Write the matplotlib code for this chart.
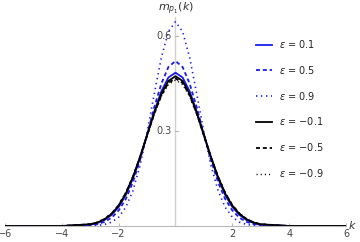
import matplotlib
matplotlib.use("Agg")
import matplotlib.pyplot as plt

k = [-6, -4, -3, -2.75, -2.5, -2.25, -2, -1.75, -1.5, -1.25, -1, -0.75, -0.5, -0.25,
     0, 0.25, 0.5, 0.75, 1, 1.25, 1.5, 1.75, 2, 2.25, 2.5, 2.75, 3, 4, 6]

m_p01 = [0, 0, 0.0045, 0.0094, 0.019, 0.035, 0.060, 0.098, 0.150, 0.215, 0.288, 0.361, 0.425, 0.469,
         0.484, 0.469, 0.425, 0.361, 0.288, 0.215, 0.150, 0.098, 0.060, 0.035, 0.019, 0.0094, 0.0045, 0, 0]
m_p05 = [0, 0, 0.0026, 0.006, 0.013, 0.026, 0.049, 0.085, 0.138, 0.207, 0.289, 0.374, 0.449, 0.502,
         0.521, 0.502, 0.449, 0.374, 0.289, 0.207, 0.138, 0.085, 0.049, 0.026, 0.013, 0.006, 0.0026, 0, 0]
m_p09 = [0, 0, 0.0006, 0.0018, 0.0049, 0.012, 0.028, 0.059, 0.111, 0.190, 0.295, 0.416, 0.531, 0.614,
         0.645, 0.614, 0.531, 0.416, 0.295, 0.190, 0.111, 0.059, 0.028, 0.012, 0.0049, 0.0018, 0.0006, 0, 0]
m_m01 = [0, 0, 0.0053, 0.011, 0.021, 0.038, 0.064, 0.102, 0.154, 0.217, 0.287, 0.357, 0.417, 0.458,
         0.473, 0.458, 0.417, 0.357, 0.287, 0.217, 0.154, 0.102, 0.064, 0.038, 0.021, 0.011, 0.0053, 0, 0]
m_m05 = [0, 0, 0.0056, 0.011, 0.022, 0.039, 0.066, 0.104, 0.155, 0.217, 0.285, 0.354, 0.412, 0.452,
         0.466, 0.452, 0.412, 0.354, 0.285, 0.217, 0.155, 0.104, 0.066, 0.039, 0.022, 0.011, 0.0056, 0, 0]
m_m09 = [0, 0, 0.0061, 0.012, 0.023, 0.040, 0.067, 0.106, 0.156, 0.218, 0.285, 0.352, 0.409, 0.447,
         0.461, 0.447, 0.409, 0.352, 0.285, 0.218, 0.156, 0.106, 0.067, 0.040, 0.023, 0.012, 0.0061, 0, 0]

labels = [r"$\epsilon$ = 0.1", r"$\epsilon$ = 0.5", r"$\epsilon$ = 0.9",
          r"$\epsilon$ = −0.1", r"$\epsilon$ = −0.5", r"$\epsilon$ = −0.9"]
xticks = [-6, -4, -2, 2, 4, 6]
yticks = [0.3, 0.6]

blue = "#1a1aee"
fig = plt.figure(figsize=(3.6, 2.42), dpi=100)
ax = fig.add_axes([5/360, 16/242, 341/360, 0.66*316.7/242])
ax.set_xlim(-6, 6)
ax.set_ylim(0, 0.66)

gray = "#b8b8b8"
ax.axvline(0, color="#d0d0d0", lw=1.0, zorder=0)

series = [m_p01, m_p05, m_p09, m_m01, m_m05, m_m09]
styles = [(blue, "-", 1.3), (blue, (0, (2.2, 1.6)), 1.3), (blue, (0, (0.8, 2.2)), 1.2),
          ("black", "-", 1.3), ("black", (0, (2.2, 1.6)), 1.3), ("black", (0, (0.8, 2.2)), 1.0)]
for y, (c, ls, lw), lab in zip(series, styles, labels):
    ax.plot(k, y, color=c, ls=ls, lw=lw, label=lab)

for s in ["left", "right", "top"]:
    ax.spines[s].set_visible(False)
ax.spines["bottom"].set_color(gray)
ax.spines["bottom"].set_linewidth(0.8)
ax.set_xticks(xticks)
ax.set_xticklabels(["−6", "−4", "−2", "2", "4", "6"])
ax.tick_params(axis="x", direction="in", length=2.5, color=gray, labelsize=7,
               labelcolor="#444444", pad=2)
ax.set_yticks([])
for yt in yticks:
    ax.text(-0.12, yt, f"{yt:.1f}", ha="right", va="center", fontsize=7, color="#444444")
    ax.plot([0, 0.08], [yt, yt], color=gray, lw=0.8)

fig.text(352/360, 1 - 226/242, "k", fontsize=8, style="italic", color="#333333",
         ha="center", va="center")
fig.text(176/360, 1 - 9/242, r"$m_{p_1}(k)$", fontsize=8, color="#333333",
         ha="center", va="center")

leg = ax.legend(loc="upper left", bbox_to_anchor=(256/360, 1 - 38/242),
                bbox_transform=fig.transFigure, frameon=False, fontsize=7,
                handlelength=1.6, handletextpad=0.8, labelspacing=1.42,
                borderpad=0, borderaxespad=0)
for t in leg.get_texts():
    t.set_color("#222222")

fig.savefig("out.png", dpi=100)
